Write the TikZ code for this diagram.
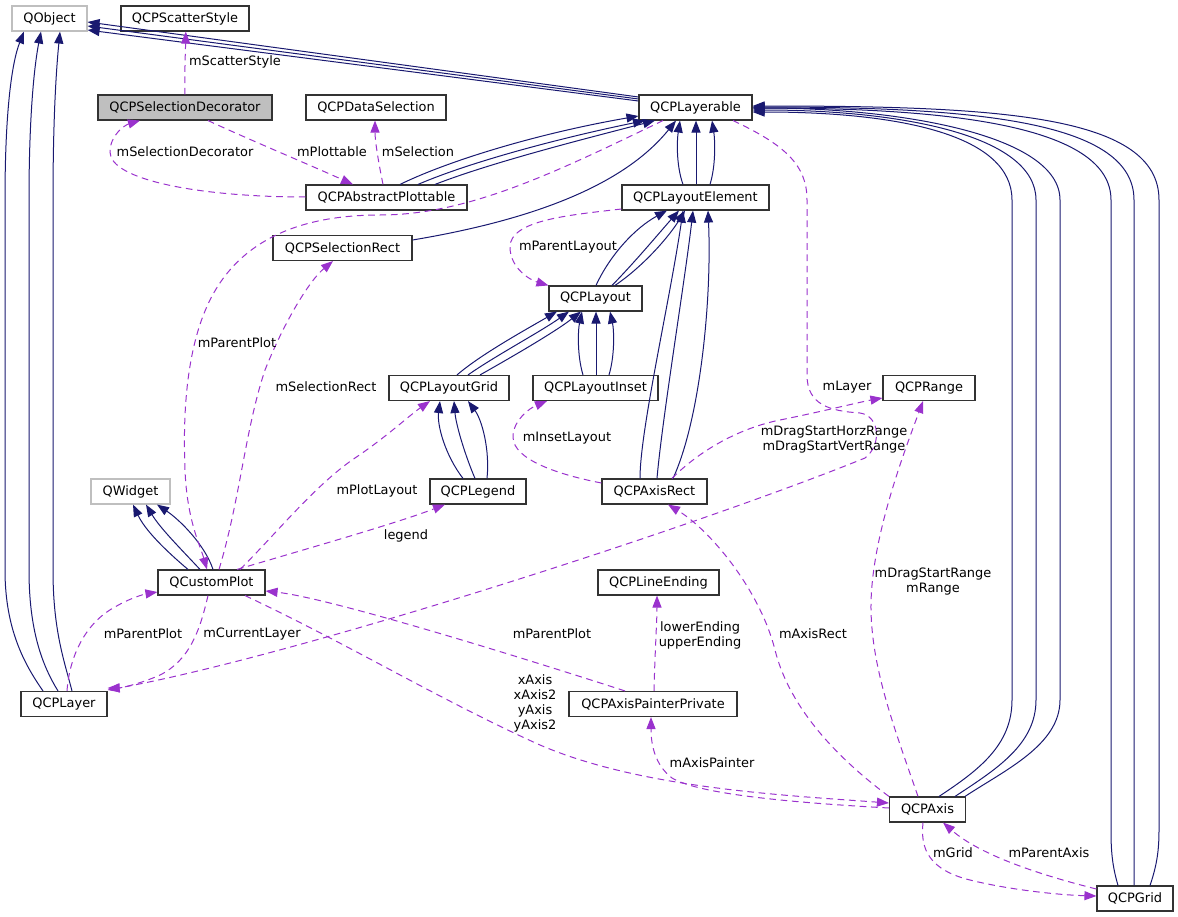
\documentclass[tikz,border=0pt]{standalone}
\usepackage{fontspec}
\setmainfont{DejaVu Sans}
\usetikzlibrary{arrows.meta}
\definecolor{inhblue}{HTML}{191970}
\definecolor{membpurple}{HTML}{9A32CD}
\definecolor{extgray}{HTML}{BFBFBF}
\newcommand{\dox}{\fontsize{9.7}{11.25}\selectfont}
\tikzset{
	cls/.style={draw=black!80, line width=0.85pt, fill=white, inner sep=0pt, minimum height=18.75pt, font=\dox},
	boxw/.style={minimum width=#1*0.75pt},
	ext/.style={cls, draw=extgray},
	cur/.style={cls, fill=extgray},
	inh/.style={draw=inhblue, line width=0.75pt, -{Triangle[length=9pt,width=6.8pt]}},
	memb/.style={draw=membpurple, line width=0.75pt, dash pattern=on 5pt off 3.5pt, -{Triangle[length=9pt,width=6.8pt]}},
	lbl/.style={font=\dox, inner sep=0pt, align=center}
}
\begin{document}
\begin{tikzpicture}[x=0.75pt,y=-0.75pt]
	\useasboundingbox (0,0) rectangle (1178,917);

	\node[ext, boxw=75] (QObject) at (49.5,18.5) {QObject};
	\node[cls, boxw=128] (QCPScatterStyle) at (185,18.5) {QCPScatterStyle};
	\node[cur, boxw=174] (QCPSelectionDecorator) at (185,107.5) {QCPSelectionDecorator};
	\node[cls, boxw=140] (QCPDataSelection) at (376,107.5) {QCPDataSelection};
	\node[cls, boxw=113] (QCPLayerable) at (695.5,107.5) {QCPLayerable};
	\node[cls, boxw=161] (QCPAbstractPlottable) at (386.5,197.5) {QCPAbstractPlottable};
	\node[cls, boxw=147] (QCPLayoutElement) at (695.5,197.5) {QCPLayoutElement};
	\node[cls, boxw=139] (QCPSelectionRect) at (342.5,248) {QCPSelectionRect};
	\node[cls, boxw=93] (QCPLayout) at (595.5,298.5) {QCPLayout};
	\node[cls, boxw=120] (QCPLayoutGrid) at (449,388) {QCPLayoutGrid};
	\node[cls, boxw=125] (QCPLayoutInset) at (595.5,388) {QCPLayoutInset};
	\node[cls, boxw=92] (QCPRange) at (929,388) {QCPRange};
	\node[ext, boxw=79] (QWidget) at (130.5,491.5) {QWidget};
	\node[cls, boxw=96] (QCPLegend) at (478,491.5) {QCPLegend};
	\node[cls, boxw=105] (QCPAxisRect) at (654.5,491.5) {QCPAxisRect};
	\node[cls, boxw=107] (QCustomPlot) at (211.5,582.5) {QCustomPlot};
	\node[cls, boxw=121] (QCPLineEnding) at (658.5,582.5) {QCPLineEnding};
	\node[cls, boxw=86] (QCPLayer) at (64,704) {QCPLayer};
	\node[cls, boxw=168] (QCPAxisPainterPrivate) at (653,704) {QCPAxisPainterPrivate};
	\node[cls, boxw=76] (QCPAxis) at (927.5,809.5) {QCPAxis};
	\node[cls, boxw=76] (QCPGrid) at (1135,898.5) {QCPGrid};

	% inheritance
	\foreach \ya/\yb in {97/22,99/26,101/30}
		\draw[inh] (QCPLayerable.west |- 0,\ya) -- (QObject.east |- 0,\yb);
	\draw[inh] (43,0 |- QCPLayer.north) .. controls (25,665) and (5,630) .. (5,570) -- (5,200) .. controls (5,110) and (12,62) .. (24,0 |- QObject.south);
	\draw[inh] (58,0 |- QCPLayer.north) .. controls (42,665) and (29,630) .. (29,570) -- (29,200) .. controls (29,110) and (35,62) .. (41,0 |- QObject.south);
	\draw[inh] (72,0 |- QCPLayer.north) .. controls (64,660) and (53,630) .. (53,570) -- (53,200) .. controls (53,110) and (57,62) .. (60,0 |- QObject.south);
	\draw[inh] (400,0 |- QCPAbstractPlottable.north) .. controls (450,160) and (540,133) .. (QCPLayerable.west |- 0,116);
	\draw[inh] (418,0 |- QCPAbstractPlottable.north) .. controls (470,162) and (560,138) .. (645,0 |- QCPLayerable.south);
	\draw[inh] (435,0 |- QCPAbstractPlottable.north) .. controls (490,163) and (580,140) .. (655,0 |- QCPLayerable.south);
	\draw[inh] (QCPSelectionRect.east |- 0,240) .. controls (520,222) and (620,190) .. (676,0 |- QCPLayerable.south);
	\draw[inh] (683,0 |- QCPLayoutElement.north) .. controls (676,165) and (677,140) .. (680,0 |- QCPLayerable.south);
	\draw[inh] (696,0 |- QCPLayoutElement.north) -- (696,0 |- QCPLayerable.south);
	\draw[inh] (710,0 |- QCPLayoutElement.north) .. controls (716,165) and (715,140) .. (712,0 |- QCPLayerable.south);
	\foreach \xa/\xv/\yt in {939/1012/112,955/1036/110,965/1060/108}
		\draw[inh] (\xa,0 |- QCPAxis.north) .. controls (\xa+40,770) and (\xv,745) .. (\xv,700) -- (\xv,200) .. controls (\xv,135) and (900,\yt) .. (QCPLayerable.east |- 0,\yt);
	\draw[inh] (1118,0 |- QCPGrid.north) .. controls (1112,865) and (1111,850) .. (1111,830) -- (1111,200) .. controls (1111,128) and (960,108) .. (QCPLayerable.east |- 0,108);
	\draw[inh] (1134,0 |- QCPGrid.north) -- (1134,200) .. controls (1134,122) and (980,107) .. (QCPLayerable.east |- 0,107);
	\draw[inh] (1150,0 |- QCPGrid.north) .. controls (1157,865) and (1159,850) .. (1159,830) -- (1159,200) .. controls (1159,115) and (1000,106) .. (QCPLayerable.east |- 0,106);
	\draw[inh] (596,0 |- QCPLayout.north) .. controls (610,255) and (635,228) .. (667,0 |- QCPLayoutElement.south);
	\draw[inh] (612,0 |- QCPLayout.north) .. controls (635,262) and (660,232) .. (679,0 |- QCPLayoutElement.south);
	\draw[inh] (615,0 |- QCPLayout.north) .. controls (645,265) and (670,235) .. (685,0 |- QCPLayoutElement.south);
	\draw[inh] (640,0 |- QCPAxisRect.north) .. controls (640,430) and (670,300) .. (683,0 |- QCPLayoutElement.south);
	\draw[inh] (657,0 |- QCPAxisRect.north) .. controls (662,420) and (685,280) .. (693,0 |- QCPLayoutElement.south);
	\draw[inh] (673,0 |- QCPAxisRect.north) .. controls (700,420) and (712,300) .. (708,0 |- QCPLayoutElement.south);
	\draw[inh] (457,0 |- QCPLayoutGrid.north) .. controls (480,355) and (525,330) .. (557,0 |- QCPLayout.south);
	\draw[inh] (468,0 |- QCPLayoutGrid.north) .. controls (495,356) and (540,332) .. (569,0 |- QCPLayout.south);
	\draw[inh] (480,0 |- QCPLayoutGrid.north) .. controls (510,358) and (555,332) .. (581,0 |- QCPLayout.south);
	\draw[inh] (583,0 |- QCPLayoutInset.north) .. controls (577,355) and (578,330) .. (582,0 |- QCPLayout.south);
	\draw[inh] (596,0 |- QCPLayoutInset.north) -- (596,0 |- QCPLayout.south);
	\draw[inh] (609,0 |- QCPLayoutInset.north) .. controls (615,355) and (614,330) .. (610,0 |- QCPLayout.south);
	\draw[inh] (463,0 |- QCPLegend.north) .. controls (445,455) and (437,425) .. (440,0 |- QCPLayoutGrid.south);
	\draw[inh] (475,0 |- QCPLegend.north) .. controls (465,455) and (456,425) .. (454,0 |- QCPLayoutGrid.south);
	\draw[inh] (487,0 |- QCPLegend.north) .. controls (490,450) and (482,420) .. (468,0 |- QCPLayoutGrid.south);
	\draw[inh] (188,0 |- QCustomPlot.north) .. controls (165,550) and (145,530) .. (133,0 |- QWidget.south);
	\draw[inh] (200,0 |- QCustomPlot.north) .. controls (180,548) and (160,528) .. (146,0 |- QWidget.south);
	\draw[inh] (213,0 |- QCustomPlot.north) .. controls (205,545) and (180,520) .. (157,0 |- QWidget.south);

	% members
	\draw[memb] (185,0 |- QCPSelectionDecorator.north) .. controls (184.5,70) and (185.5,50) .. (185.8,0 |- QCPScatterStyle.south);
	\draw[memb] (208,0 |- QCPSelectionDecorator.south) .. controls (250,140) and (310,165) .. (353,0 |- QCPAbstractPlottable.north);
	\draw[memb] (QCPAbstractPlottable.west |- 0,197) .. controls (200,197) and (110,180) .. (110,152) .. controls (110,135) and (125,125) .. (140,0 |- QCPSelectionDecorator.south);
	\draw[memb] (383,0 |- QCPAbstractPlottable.north) .. controls (378,160) and (375,140) .. (375,0 |- QCPDataSelection.south);
	\draw[memb] (663,0 |- QCPLayerable.south) .. controls (560,170) and (470,215) .. (380,215) .. controls (300,215) and (240,240) .. (210,300) .. controls (185,350) and (183,420) .. (185,470) .. controls (187,520) and (200,545) .. (207,0 |- QCustomPlot.north);
	\draw[memb] (219,0 |- QCustomPlot.north) .. controls (240,500) and (245,430) .. (265,370) .. controls (285,320) and (310,280) .. (333,0 |- QCPSelectionRect.south);
	\draw[memb] (240,0 |- QCustomPlot.north) .. controls (275,535) and (315,485) .. (355,458) .. controls (385,438) and (410,415) .. (430,0 |- QCPLayoutGrid.south);
	\draw[memb] (237,0 |- QCustomPlot.north) .. controls (320,545) and (400,522) .. (445,0 |- QCPLegend.south);
	\draw[memb] (QCPLayoutElement.west |- 0,209) .. controls (570,215) and (510,220) .. (510,247) .. controls (510,268) and (530,280) .. (QCPLayout.north west);
	\draw[memb] (QCPAxisRect.west |- 0,483) .. controls (560,475) and (513,460) .. (513,437) .. controls (513,420) and (530,408) .. (547,0 |- QCPLayoutInset.south);
	\draw[memb] (733,0 |- QCPLayerable.south) .. controls (785,145) and (807,165) .. (807,200) -- (807,375) .. controls (807,405) and (830,411) .. (860,413) .. controls (880,416) and (882,445) .. (865,458) .. controls (700,525) and (300,655) .. (QCPLayer.east |- 0,690);
	\draw[memb] (672,0 |- QCPAxisRect.north) .. controls (700,450) and (740,428) .. (780,420) .. controls (820,412) and (860,402) .. (QCPRange.west |- 0,398);
	\draw[memb] (918,0 |- QCPAxis.north) .. controls (895,730) and (872,670) .. (871,610) .. controls (870,540) and (905,450) .. (923,0 |- QCPRange.south);
	\draw[memb] (QCPAxis.north west) .. controls (840,760) and (790,710) .. (775,650) .. controls (760,590) and (710,530) .. (668,0 |- QCPAxisRect.south);
	\draw[memb] (625,0 |- QCPAxisPainterPrivate.north) .. controls (520,657) and (330,598) .. (QCustomPlot.east |- 0,591);
	\draw[memb] (245,0 |- QCustomPlot.south) .. controls (350,645) and (440,700) .. (540,745) .. controls (640,788) and (780,795) .. (QCPAxis.west |- 0,803);
	\draw[memb] (QCPAxis.west |- 0,808) .. controls (800,803) and (700,795) .. (672,778) .. controls (655,765) and (651,745) .. (651,0 |- QCPAxisPainterPrivate.south);
	\draw[memb] (654,0 |- QCPAxisPainterPrivate.north) .. controls (655,650) and (657,620) .. (657,0 |- QCPLineEnding.south);
	\draw[memb] (923,0 |- QCPAxis.south) .. controls (920,850) and (930,870) .. (970,880) .. controls (1010,890) and (1060,895) .. (QCPGrid.west |- 0,896);
	\draw[memb] (QCPGrid.west |- 0,889) .. controls (1040,875) and (980,855) .. (943,0 |- QCPAxis.south);
	\draw[memb] (67,0 |- QCPLayer.north) .. controls (70,650) and (90,620) .. (115,607) .. controls (130,598) and (145,594) .. (QCustomPlot.west |- 0,592);
	\draw[memb] (208,0 |- QCustomPlot.south) .. controls (200,630) and (190,660) .. (160,675) .. controls (140,684) and (120,688) .. (QCPLayer.east |- 0,688);

	\node[lbl] (lScatterStyle) at (235,62) {mScatterStyle};
	\node[lbl] (lSelectionDecorator) at (185,152) {mSelectionDecorator};
	\node[lbl] (lPlottable) at (332,152) {mPlottable};
	\node[lbl] (lSelection) at (418,152) {mSelection};
	\node[lbl] (lParentPlotA) at (237,343) {mParentPlot};
	\node[lbl] (lSelectionRect) at (326,387) {mSelectionRect};
	\node[lbl] (lParentLayout) at (568,247) {mParentLayout};
	\node[lbl] (lInsetLayout) at (567,438) {mInsetLayout};
	\node[lbl] (lLayer) at (847,387) {mLayer};
	\node[lbl] (lDragStart) at (834,440) {mDragStartHorzRange\\mDragStartVertRange};
	\node[lbl] (lPlotLayout) at (377,491) {mPlotLayout};
	\node[lbl] (lLegend) at (406,536) {legend};
	\node[lbl] (lRange) at (933,582) {mDragStartRange\\mRange};
	\node[lbl] (lAxisRect) at (813,634) {mAxisRect};
	\node[lbl] (lParentPlotB) at (552,634) {mParentPlot};
	\node[lbl] (lEnding) at (700,635) {lowerEnding\\upperEnding};
	\node[lbl] (lParentPlotC) at (143,634) {mParentPlot};
	\node[lbl] (lCurrentLayer) at (252,634) {mCurrentLayer};
	\node[lbl] (lAxes) at (535,703) {xAxis\\xAxis2\\yAxis\\yAxis2};
	\node[lbl] (lAxisPainter) at (712,763) {mAxisPainter};
	\node[lbl] (lGrid) at (953,853) {mGrid};
	\node[lbl] (lParentAxis) at (1049,853) {mParentAxis};
\end{tikzpicture}
\end{document}
